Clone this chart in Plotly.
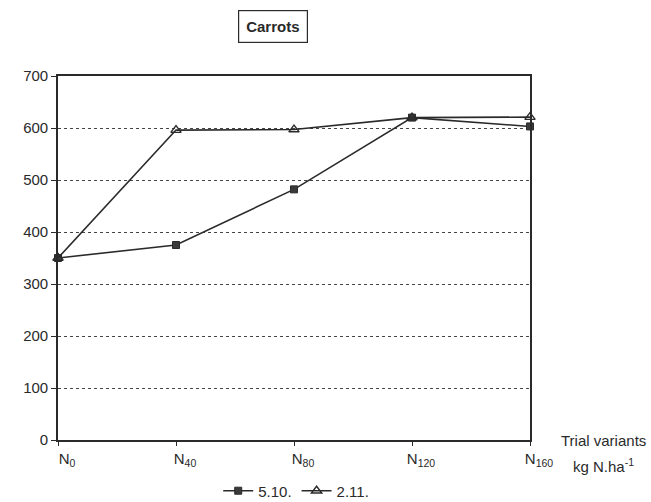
import plotly.graph_objects as go

categories = ["N<sub>0</sub>", "N<sub>40</sub>", "N<sub>80</sub>", "N<sub>120</sub>", "N<sub>160</sub>"]
series_510 = [350, 375, 482, 620, 603]
series_211 = [350, 596, 597, 620, 621]
y_ticks = [0, 100, 200, 300, 400, 500, 600, 700]

x_idx = list(range(len(categories)))
font = "Liberation Sans, Arial, sans-serif"
ink = "#2a2a2a"

fig = go.Figure()
fig.add_trace(go.Scatter(
    x=x_idx, y=series_510, name="5.10.", mode="lines+markers",
    line=dict(color=ink, width=1.6),
    marker=dict(symbol="square", size=7, color="#3a3a3a", line=dict(color=ink, width=1)),
    cliponaxis=False))
fig.add_trace(go.Scatter(
    x=x_idx, y=series_211, name="2.11.", mode="lines+markers",
    line=dict(color=ink, width=1.6),
    marker=dict(symbol="triangle-up-open", size=9, color=ink, line=dict(width=1.4)),
    cliponaxis=False))

fig.update_layout(
    width=651, height=502,
    margin=dict(l=58, r=121, t=76, b=62),
    paper_bgcolor="white", plot_bgcolor="white",
    font=dict(family=font, size=14, color=ink),
    showlegend=True,
    legend=dict(orientation="h", xref="container", x=0.455, xanchor="center",
                yref="container", y=0.022, yanchor="middle",
                font=dict(size=15), itemwidth=30, tracegroupgap=0,
                bgcolor="rgba(0,0,0,0)"),
    xaxis=dict(range=[0, 4], tickvals=x_idx, ticktext=categories,
               showgrid=False, zeroline=False, showline=True, linecolor=ink, linewidth=1.6,
               mirror=True, ticks="outside", ticklen=4, tickcolor=ink,
               ticklabelshift=9, automargin=False,
               tickfont=dict(size=15), fixedrange=True),
    yaxis=dict(range=[0, 700], tickvals=y_ticks,
               showgrid=True, gridcolor="#444", griddash="dot", gridwidth=1,
               zeroline=False, showline=True, linecolor=ink, linewidth=1.6,
               mirror=True, ticks="outside", ticklen=5, tickcolor=ink,
               automargin=False,
               tickfont=dict(size=15), fixedrange=True),
    annotations=[
        dict(text="<b>Carrots</b>", x=0.455, xref="paper", y=1.135, yref="paper",
             xanchor="center", yanchor="middle",
             showarrow=False, font=dict(size=15, color=ink),
             bordercolor=ink, borderwidth=1.2, borderpad=7, bgcolor="white"),
        dict(text="Trial variants", x=1.155, xref="paper", y=0.0, yref="paper",
             xanchor="center", yanchor="middle",
             showarrow=False, font=dict(size=15, color=ink)),
        dict(text="kg N.ha<sup>-1</sup>", x=1.155, xref="paper", y=-0.069, yref="paper",
             xanchor="center", yanchor="middle",
             showarrow=False, font=dict(size=15, color=ink)),
    ],
)

fig.write_html("out.html")
